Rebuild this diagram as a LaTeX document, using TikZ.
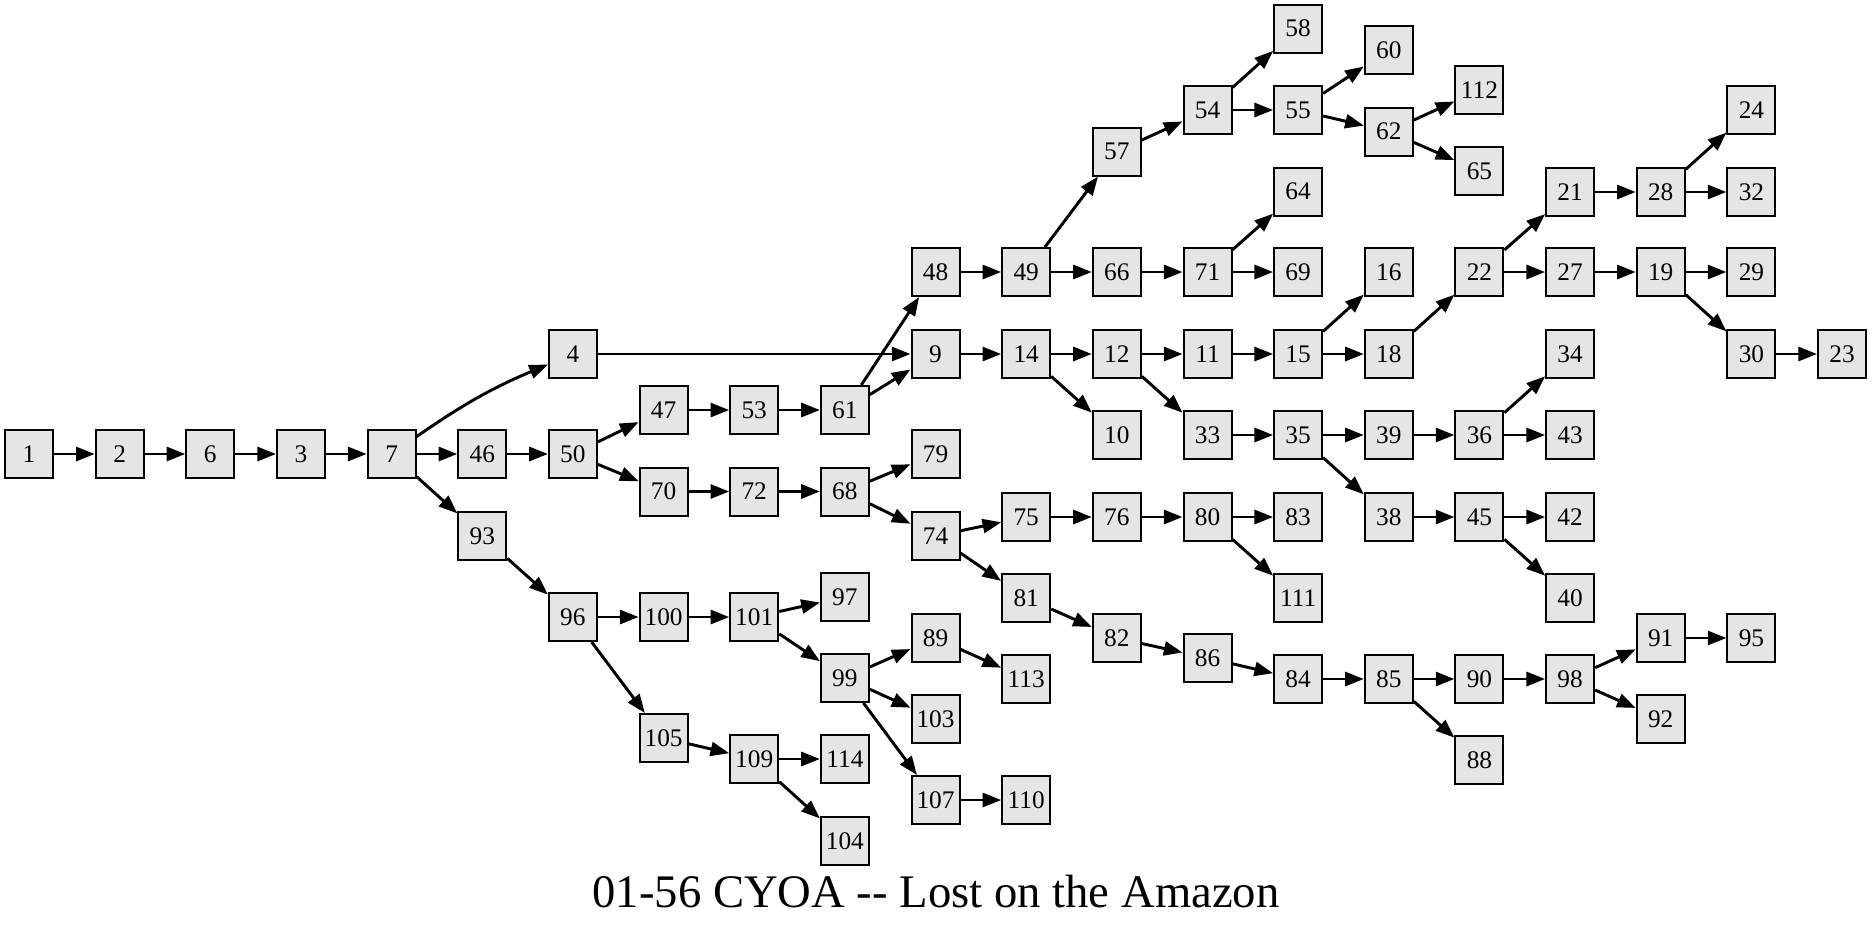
\documentclass[tikz,border=0pt]{standalone}
\usepackage{fontspec}
\setmainfont{Liberation Serif}
\usepackage{xcolor}
\usepackage{tikz}
\usetikzlibrary{arrows.meta}
\definecolor{pagefill}{HTML}{E5E5E5}
\tikzset{
  page_box/.style={draw=black, fill=pagefill, line width=1.5pt, minimum size=36pt, inner sep=0pt, font=\fontsize{19}{22}\selectfont},
  edge_choice/.style={line width=2.2pt, color=black, -{Triangle[length=14pt, width=10.5pt]}},
  title_text/.style={anchor=base, font=\fontsize{35}{40}\selectfont}
}
\begin{document}
\begin{tikzpicture}[x=0.75pt, y=-0.75pt]
\useasboundingbox (0,0) rectangle (1872,929);
% story pages, one column per depth
\node[page_box] (p1) at (29,454) {1};
\node[page_box] (p2) at (119.7,454) {2};
\node[page_box] (p6) at (210.3,454) {6};
\node[page_box] (p3) at (301,454) {3};
\node[page_box] (p7) at (391.6,454) {7};
\node[page_box] (p46) at (482.3,454) {46};
\node[page_box] (p93) at (482.3,536) {93};
\node[page_box] (p4) at (572.9,354) {4};
\node[page_box] (p50) at (572.9,454) {50};
\node[page_box] (p96) at (572.9,617) {96};
\node[page_box] (p47) at (663.6,410) {47};
\node[page_box] (p70) at (663.6,491.5) {70};
\node[page_box] (p100) at (663.6,617) {100};
\node[page_box] (p105) at (663.6,738) {105};
\node[page_box] (p53) at (754.2,410) {53};
\node[page_box] (p72) at (754.2,491.5) {72};
\node[page_box] (p101) at (754.2,617) {101};
\node[page_box] (p109) at (754.2,759) {109};
\node[page_box] (p61) at (844.9,410) {61};
\node[page_box] (p68) at (844.9,491.5) {68};
\node[page_box] (p97) at (844.9,597) {97};
\node[page_box] (p99) at (844.9,678) {99};
\node[page_box] (p114) at (844.9,759) {114};
\node[page_box] (p104) at (844.9,841) {104};
\node[page_box] (p48) at (935.5,272) {48};
\node[page_box] (p9) at (935.5,354) {9};
\node[page_box] (p79) at (935.5,454) {79};
\node[page_box] (p74) at (935.5,536) {74};
\node[page_box] (p89) at (935.5,638) {89};
\node[page_box] (p103) at (935.5,719) {103};
\node[page_box] (p107) at (935.5,800) {107};
\node[page_box] (p49) at (1026.2,272) {49};
\node[page_box] (p14) at (1026.2,354) {14};
\node[page_box] (p75) at (1026.2,517) {75};
\node[page_box] (p81) at (1026.2,598) {81};
\node[page_box] (p113) at (1026.2,679) {113};
\node[page_box] (p110) at (1026.2,800) {110};
\node[page_box] (p57) at (1116.8,151.5) {57};
\node[page_box] (p66) at (1116.8,272) {66};
\node[page_box] (p12) at (1116.8,354) {12};
\node[page_box] (p10) at (1116.8,435) {10};
\node[page_box] (p76) at (1116.8,517) {76};
\node[page_box] (p82) at (1116.8,638) {82};
\node[page_box] (p54) at (1207.5,110) {54};
\node[page_box] (p71) at (1207.5,272) {71};
\node[page_box] (p11) at (1207.5,354) {11};
\node[page_box] (p33) at (1207.5,435) {33};
\node[page_box] (p80) at (1207.5,517) {80};
\node[page_box] (p86) at (1207.5,658) {86};
\node[page_box] (p58) at (1298.1,28.5) {58};
\node[page_box] (p55) at (1298.1,110) {55};
\node[page_box] (p64) at (1298.1,191.5) {64};
\node[page_box] (p69) at (1298.1,272) {69};
\node[page_box] (p15) at (1298.1,354) {15};
\node[page_box] (p35) at (1298.1,435) {35};
\node[page_box] (p83) at (1298.1,517) {83};
\node[page_box] (p111) at (1298.1,598) {111};
\node[page_box] (p84) at (1298.1,679) {84};
\node[page_box] (p60) at (1388.8,50) {60};
\node[page_box] (p62) at (1388.8,131.5) {62};
\node[page_box] (p16) at (1388.8,272) {16};
\node[page_box] (p18) at (1388.8,354) {18};
\node[page_box] (p39) at (1388.8,435) {39};
\node[page_box] (p38) at (1388.8,517) {38};
\node[page_box] (p85) at (1388.8,679) {85};
\node[page_box] (p112) at (1479.4,90) {112};
\node[page_box] (p65) at (1479.4,171) {65};
\node[page_box] (p22) at (1479.4,272) {22};
\node[page_box] (p36) at (1479.4,435) {36};
\node[page_box] (p45) at (1479.4,517) {45};
\node[page_box] (p90) at (1479.4,679) {90};
\node[page_box] (p88) at (1479.4,760) {88};
\node[page_box] (p21) at (1570.1,192) {21};
\node[page_box] (p27) at (1570.1,272) {27};
\node[page_box] (p34) at (1570.1,354) {34};
\node[page_box] (p43) at (1570.1,435) {43};
\node[page_box] (p42) at (1570.1,517) {42};
\node[page_box] (p40) at (1570.1,598) {40};
\node[page_box] (p98) at (1570.1,679) {98};
\node[page_box] (p28) at (1660.7,192) {28};
\node[page_box] (p19) at (1660.7,272) {19};
\node[page_box] (p91) at (1660.7,638) {91};
\node[page_box] (p92) at (1660.7,719) {92};
\node[page_box] (p24) at (1751.4,110) {24};
\node[page_box] (p32) at (1751.4,192) {32};
\node[page_box] (p29) at (1751.4,272) {29};
\node[page_box] (p30) at (1751.4,354) {30};
\node[page_box] (p95) at (1751.4,638) {95};
\node[page_box] (p23) at (1842,354) {23};
% choices
\draw[edge_choice] (p1) -- (p2);
\draw[edge_choice] (p2) -- (p6);
\draw[edge_choice] (p6) -- (p3);
\draw[edge_choice] (p3) -- (p7);
\draw[edge_choice] (p7) to[bend left=6] (p4);
\draw[edge_choice] (p7) -- (p46);
\draw[edge_choice] (p7) -- (p93);
\draw[edge_choice] (p4) -- (p9);
\draw[edge_choice] (p46) -- (p50);
\draw[edge_choice] (p50) -- (p47);
\draw[edge_choice] (p50) -- (p70);
\draw[edge_choice] (p47) -- (p53);
\draw[edge_choice] (p53) -- (p61);
\draw[edge_choice] (p61) -- (p48);
\draw[edge_choice] (p61) -- (p9);
\draw[edge_choice] (p70) -- (p72);
\draw[edge_choice] (p72) -- (p68);
\draw[edge_choice] (p68) -- (p79);
\draw[edge_choice] (p68) -- (p74);
\draw[edge_choice] (p93) -- (p96);
\draw[edge_choice] (p96) -- (p100);
\draw[edge_choice] (p96) -- (p105);
\draw[edge_choice] (p100) -- (p101);
\draw[edge_choice] (p101) -- (p97);
\draw[edge_choice] (p101) -- (p99);
\draw[edge_choice] (p99) -- (p89);
\draw[edge_choice] (p99) -- (p103);
\draw[edge_choice] (p99) -- (p107);
\draw[edge_choice] (p89) -- (p113);
\draw[edge_choice] (p107) -- (p110);
\draw[edge_choice] (p105) -- (p109);
\draw[edge_choice] (p109) -- (p114);
\draw[edge_choice] (p109) -- (p104);
\draw[edge_choice] (p48) -- (p49);
\draw[edge_choice] (p49) -- (p57);
\draw[edge_choice] (p49) -- (p66);
\draw[edge_choice] (p57) -- (p54);
\draw[edge_choice] (p54) -- (p58);
\draw[edge_choice] (p54) -- (p55);
\draw[edge_choice] (p55) -- (p60);
\draw[edge_choice] (p55) -- (p62);
\draw[edge_choice] (p62) -- (p112);
\draw[edge_choice] (p62) -- (p65);
\draw[edge_choice] (p66) -- (p71);
\draw[edge_choice] (p71) -- (p64);
\draw[edge_choice] (p71) -- (p69);
\draw[edge_choice] (p9) -- (p14);
\draw[edge_choice] (p14) -- (p12);
\draw[edge_choice] (p14) -- (p10);
\draw[edge_choice] (p12) -- (p11);
\draw[edge_choice] (p12) -- (p33);
\draw[edge_choice] (p11) -- (p15);
\draw[edge_choice] (p15) -- (p16);
\draw[edge_choice] (p15) -- (p18);
\draw[edge_choice] (p18) -- (p22);
\draw[edge_choice] (p22) -- (p21);
\draw[edge_choice] (p22) -- (p27);
\draw[edge_choice] (p21) -- (p28);
\draw[edge_choice] (p28) -- (p24);
\draw[edge_choice] (p28) -- (p32);
\draw[edge_choice] (p27) -- (p19);
\draw[edge_choice] (p19) -- (p29);
\draw[edge_choice] (p19) -- (p30);
\draw[edge_choice] (p30) -- (p23);
\draw[edge_choice] (p33) -- (p35);
\draw[edge_choice] (p35) -- (p39);
\draw[edge_choice] (p35) -- (p38);
\draw[edge_choice] (p39) -- (p36);
\draw[edge_choice] (p36) -- (p34);
\draw[edge_choice] (p36) -- (p43);
\draw[edge_choice] (p38) -- (p45);
\draw[edge_choice] (p45) -- (p42);
\draw[edge_choice] (p45) -- (p40);
\draw[edge_choice] (p74) -- (p75);
\draw[edge_choice] (p74) -- (p81);
\draw[edge_choice] (p75) -- (p76);
\draw[edge_choice] (p76) -- (p80);
\draw[edge_choice] (p80) -- (p83);
\draw[edge_choice] (p80) -- (p111);
\draw[edge_choice] (p81) -- (p82);
\draw[edge_choice] (p82) -- (p86);
\draw[edge_choice] (p86) -- (p84);
\draw[edge_choice] (p84) -- (p85);
\draw[edge_choice] (p85) -- (p90);
\draw[edge_choice] (p85) -- (p88);
\draw[edge_choice] (p90) -- (p98);
\draw[edge_choice] (p98) -- (p91);
\draw[edge_choice] (p98) -- (p92);
\draw[edge_choice] (p91) -- (p95);
% title
\node[title_text] (title_node) at (936,907) {01-56 CYOA \mbox{-}\mbox{-} Lost on the Amazon};
\end{tikzpicture}
\end{document}
